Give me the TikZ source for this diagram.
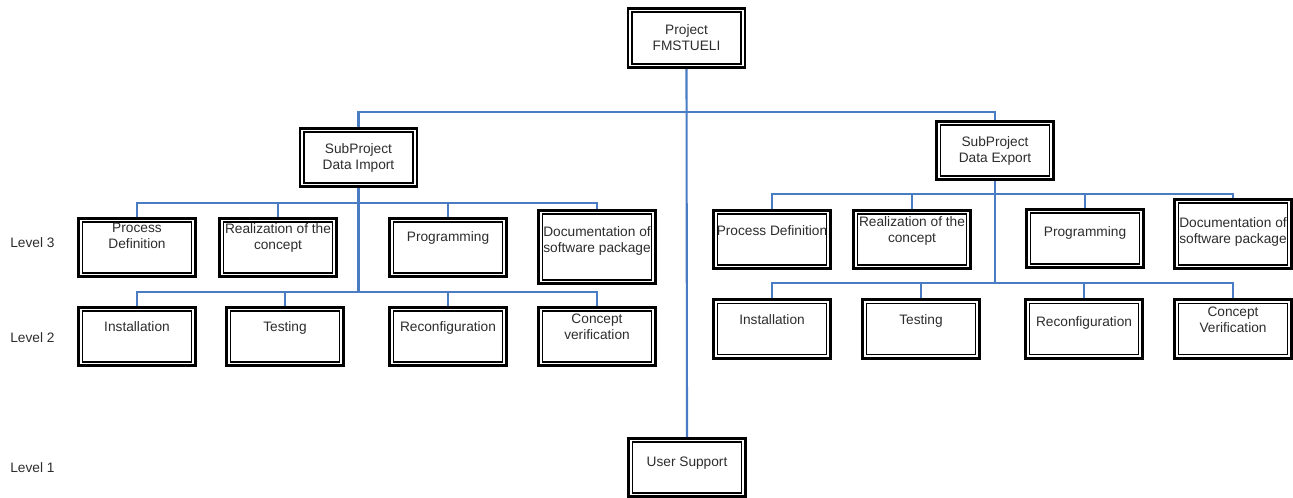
\documentclass[tikz,border=0pt]{standalone}
\usepackage{fontspec}
\setmainfont{Liberation Sans}
\definecolor{wbsblue}{RGB}{74,124,196}
\definecolor{wbstext}{RGB}{45,45,45}
\newcommand{\wbslabel}[3][10.8mm]{\parbox[c][#1][t]{22.5mm}{\centering\vspace*{#2}#3\par}}
\tikzset{
  wbs box/.style={draw=black,line width=0.8pt,double=white,double distance=1.1pt,
    preaction={draw=black,line width=4pt},
    fill=white,inner sep=0pt,outer sep=2pt,text=wbstext},
  wbs link/.style={draw=wbsblue,line width=1.2pt},
  wbs level/.style={anchor=west,inner sep=0pt,text=wbstext}
}

\begin{document}
\begin{tikzpicture}[x=0.02cm,y=-0.02cm,font=\fontsize{7.8}{9.1}\selectfont]
  \useasboundingbox (0,0) rectangle (1293,497);

  % top of the tree
  \node[wbs box] (proj) at (686.5,38) {\wbslabel[11mm]{2.8mm}{Project\\FMSTUELI}};
  \node[wbs box] (subImp) at (358.5,157.5) {\wbslabel{2.6mm}{SubProject\\Data Import}};
  \node[wbs box] (subExp) at (995,150.5) {\wbslabel{2.6mm}{SubProject\\Data Export}};
  \node[wbs box] (user) at (687,467.5) {\wbslabel{3.2mm}{User Support}};

  % data import, level 3 and 2
  \node[wbs box] (procL) at (137,247.5) {\wbslabel{0.6mm}{Process\\Definition}};
  \node[wbs box] (realL) at (278,247.5) {\wbslabel{0.6mm}{Realization of the\\concept}};
  \node[wbs box] (progL) at (448,247.5) {\wbslabel{2.2mm}{Programming}};
  \node[wbs box] (docL) at (597,247) {\wbslabel[13.8mm]{2.75mm}{Documentation of\\software package}};
  \node[wbs box] (instL) at (137,336.5) {\wbslabel{2.4mm}{Installation}};
  \node[wbs box] (testL) at (285,336.5) {\wbslabel{2.4mm}{Testing}};
  \node[wbs box] (reconfL) at (448,336.5) {\wbslabel{2.4mm}{Reconfiguration}};
  \node[wbs box] (concL) at (597,336.5) {\wbslabel{0.8mm}{Concept\\verification}};

  % data export, level 3 and 2
  \node[wbs box] (procR) at (772,239.5) {\wbslabel{2.6mm}{Process Definition}};
  \node[wbs box] (realR) at (912,239.5) {\wbslabel{0.8mm}{Realization of the\\concept}};
  \node[wbs box] (progR) at (1085,238.5) {\wbslabel{3mm}{Programming}};
  \node[wbs box] (docR) at (1233,234) {\wbslabel[13mm]{3.2mm}{Documentation of\\software package}};
  \node[wbs box] (instR) at (772,329) {\wbslabel{2.6mm}{Installation}};
  \node[wbs box] (testR) at (921,329) {\wbslabel{2.6mm}{Testing}};
  \node[wbs box] (reconfR) at (1084,329) {\wbslabel{3mm}{Reconfiguration}};
  \node[wbs box] (concR) at (1233,329) {\wbslabel{1mm}{Concept\\Verification}};

  \node[wbs level] (lev3) at (10,243) {Level 3};
  \node[wbs level] (lev2) at (10,338) {Level 2};
  \node[wbs level] (lev1) at (10,468) {Level 1};

  % connectors
  \coordinate (topBar) at (686.5,112);
  \coordinate (impL3) at (358.5,203);
  \coordinate (impL2) at (358.5,292);
  \coordinate (expL3) at (995,194);
  \coordinate (expL2) at (995,283);

  \draw[wbs link] (proj.south) -- (user.north);
  \draw[wbs link] (subImp.north) |- (topBar) -| (subExp.north);

  \draw[wbs link] (subImp.south) -- (impL2);
  \draw[wbs link] (procL.north) |- (impL3) -| (docL.north);
  \draw[wbs link] (realL.north) -- (realL.north |- impL3);
  \draw[wbs link] (progL.north) -- (progL.north |- impL3);
  \draw[wbs link] (instL.north) |- (impL2) -| (concL.north);
  \draw[wbs link] (testL.north) -- (testL.north |- impL2);
  \draw[wbs link] (reconfL.north) -- (reconfL.north |- impL2);

  \draw[wbs link] (subExp.south) -- (expL2);
  \draw[wbs link] (procR.north) |- (expL3) -| (docR.north);
  \draw[wbs link] (realR.north) -- (realR.north |- expL3);
  \draw[wbs link] (progR.north) -- (progR.north |- expL3);
  \draw[wbs link] (instR.north) |- (expL2) -| (concR.north);
  \draw[wbs link] (testR.north) -- (testR.north |- expL2);
  \draw[wbs link] (reconfR.north) -- (reconfR.north |- expL2);
\end{tikzpicture}
\end{document}
